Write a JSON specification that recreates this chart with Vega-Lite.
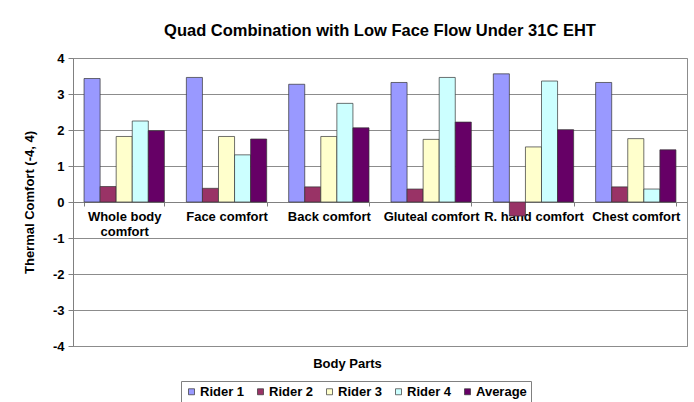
{
  "$schema": "https://vega.github.io/schema/vega-lite/v6.json",
  "width": 614,
  "height": 288,
  "autosize": {"type": "none"},
  "padding": {"left": 73, "top": 58, "right": 7, "bottom": 56},
  "background": "white",
  "title": {"text": "Quad Combination with Low Face Flow Under 31C EHT", "fontSize": 16.5, "fontWeight": "bold", "font": "Liberation Sans", "color": "black", "offset": 13},
  "data": {"values": [
    {"part": "Whole body comfort", "rider": "Rider 1", "value": 3.43},
    {"part": "Whole body comfort", "rider": "Rider 2", "value": 0.43},
    {"part": "Whole body comfort", "rider": "Rider 3", "value": 1.82},
    {"part": "Whole body comfort", "rider": "Rider 4", "value": 2.25},
    {"part": "Whole body comfort", "rider": "Average", "value": 1.98},
    {"part": "Face comfort", "rider": "Rider 1", "value": 3.46},
    {"part": "Face comfort", "rider": "Rider 2", "value": 0.38},
    {"part": "Face comfort", "rider": "Rider 3", "value": 1.82},
    {"part": "Face comfort", "rider": "Rider 4", "value": 1.31},
    {"part": "Face comfort", "rider": "Average", "value": 1.75},
    {"part": "Back comfort", "rider": "Rider 1", "value": 3.27},
    {"part": "Back comfort", "rider": "Rider 2", "value": 0.42},
    {"part": "Back comfort", "rider": "Rider 3", "value": 1.82},
    {"part": "Back comfort", "rider": "Rider 4", "value": 2.74},
    {"part": "Back comfort", "rider": "Average", "value": 2.06},
    {"part": "Gluteal comfort", "rider": "Rider 1", "value": 3.32},
    {"part": "Gluteal comfort", "rider": "Rider 2", "value": 0.36},
    {"part": "Gluteal comfort", "rider": "Rider 3", "value": 1.74},
    {"part": "Gluteal comfort", "rider": "Rider 4", "value": 3.46},
    {"part": "Gluteal comfort", "rider": "Average", "value": 2.22},
    {"part": "R. hand comfort", "rider": "Rider 1", "value": 3.56},
    {"part": "R. hand comfort", "rider": "Rider 2", "value": -0.39},
    {"part": "R. hand comfort", "rider": "Rider 3", "value": 1.53},
    {"part": "R. hand comfort", "rider": "Rider 4", "value": 3.36},
    {"part": "R. hand comfort", "rider": "Average", "value": 2.01},
    {"part": "Chest comfort", "rider": "Rider 1", "value": 3.32},
    {"part": "Chest comfort", "rider": "Rider 2", "value": 0.42},
    {"part": "Chest comfort", "rider": "Rider 3", "value": 1.76},
    {"part": "Chest comfort", "rider": "Rider 4", "value": 0.36},
    {"part": "Chest comfort", "rider": "Average", "value": 1.45}
  ]},
  "mark": {"type": "bar", "stroke": "#333333", "strokeWidth": 0.7},
  "encoding": {
    "x": {
      "field": "part", "type": "nominal",
      "sort": ["Whole body comfort", "Face comfort", "Back comfort", "Gluteal comfort", "R. hand comfort", "Chest comfort"],
      "scale": {"paddingInner": 0.215, "paddingOuter": 0.108},
      "axis": {
        "title": "Body Parts", "offset": -144, "titleY": 161, "titleX": 274, "titleBaseline": "middle",
        "titleFontSize": 13, "titleFontWeight": "bold", "titleColor": "black",
        "labelAngle": 0, "labelExpr": "datum.value == 'Whole body comfort' ? ['Whole body', 'comfort'] : datum.value",
        "labelFontSize": 13, "labelFontWeight": "bold", "labelColor": "black", "labelLineHeight": 15, "labelPadding": 4, "labelBaseline": "top",
        "tickBand": "extent", "tickSize": 4, "tickColor": "#808080", "domainColor": "#808080", "grid": false
      }
    },
    "xOffset": {"field": "rider", "type": "nominal", "sort": ["Rider 1", "Rider 2", "Rider 3", "Rider 4", "Average"], "scale": {"paddingInner": 0, "paddingOuter": 0}},
    "y": {
      "field": "value", "type": "quantitative",
      "scale": {"domain": [-4, 4], "nice": false},
      "axis": {
        "values": [-4, -3, -2, -1, 0, 1, 2, 3, 4], "title": "Thermal Comfort (-4, 4)",
        "labelExpr": "toString(datum.value)",
        "titleFontSize": 13, "titleFontWeight": "bold", "titleColor": "black", "titlePadding": 16,
        "labelFontSize": 13, "labelFontWeight": "bold", "labelColor": "black", "labelPadding": 4,
        "tickSize": 5, "tickColor": "#808080", "domainColor": "#808080", "gridColor": "#8c8c8c"
      }
    },
    "color": {
      "field": "rider", "type": "nominal",
      "scale": {"domain": ["Rider 1", "Rider 2", "Rider 3", "Rider 4", "Average"], "range": ["#9999FF", "#993366", "#FFFFCC", "#CCFFFF", "#660066"]},
      "legend": {
        "title": null, "orient": "none", "direction": "horizontal", "legendX": 108, "legendY": 323,
        "strokeColor": "#808080", "padding": 4, "symbolType": "square", "symbolSize": 36,
        "symbolStrokeColor": "#333333", "symbolStrokeWidth": 0.7, "labelFontSize": 13, "labelFontWeight": "bold",
        "labelColor": "black", "labelOffset": 2, "columnPadding": 9
      }
    }
  },
  "config": {
    "font": "Liberation Sans",
    "view": {"stroke": "#8c8c8c"}
  }
}
